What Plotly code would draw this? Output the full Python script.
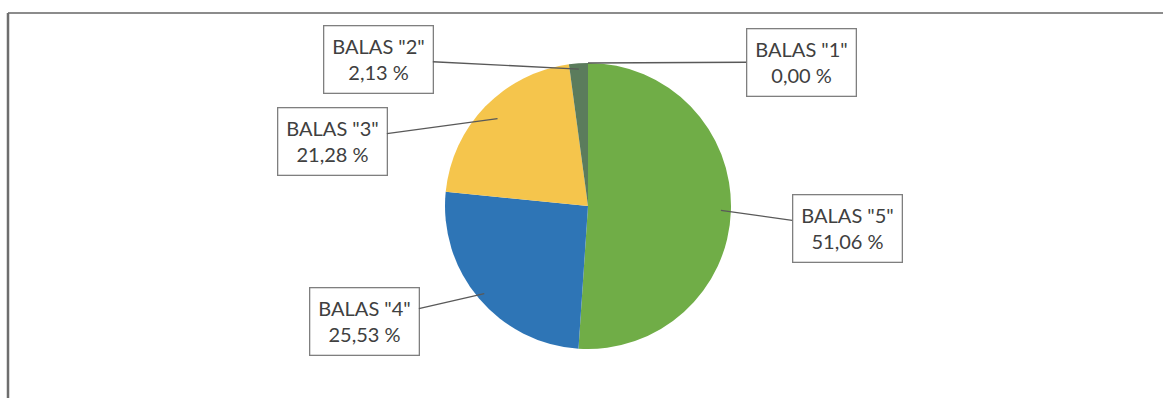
import math
import plotly.graph_objects as go

labels = ['BALAS "1"', 'BALAS "5"', 'BALAS "4"', 'BALAS "3"', 'BALAS "2"']
percents = [0.00, 51.06, 25.53, 21.28, 2.13]
colors = ["#F2C230", "#70AD47", "#2E75B6", "#F5C54C", "#5B7C5C"]
pct_text = ["0,00 %", "51,06 %", "25,53 %", "21,28 %", "2,13 %"]

# label box centres (pixel coords) and how far along the radius the leader line ends
box_pos = [(801, 62), (847, 228), (364, 321), (332, 141), (378, 59)]
tip_frac = [1.0, 0.93, 0.95, 0.88, 0.96]

W, H = 1163, 398
cx, cy, R = 588, 206, 143

fig = go.Figure()
fig.add_trace(go.Pie(
    labels=labels, values=percents, sort=False, direction="clockwise", rotation=0,
    marker=dict(colors=colors, line=dict(width=0)),
    textinfo="none", hoverinfo="label+percent", showlegend=False,
    domain=dict(x=[(cx - R) / W, (cx + R) / W], y=[(H - cy - R) / H, (H - cy + R) / H]),
))

total = sum(percents)
start = 0.0
for lab, p, t, (bx, by), f in zip(labels, percents, pct_text, box_pos, tip_frac):
    mid = (start + p / 2) / total * 2 * math.pi
    start += p
    tx = cx + f * R * math.sin(mid)
    ty = cy - f * R * math.cos(mid)
    fig.add_annotation(
        x=tx, y=ty, xref="x", yref="y", ax=bx, ay=by, axref="x", ayref="y",
        text=f"{lab}<br>{t}", showarrow=True, arrowhead=0, arrowwidth=1.3,
        arrowcolor="#595959", standoff=0, startstandoff=0,
        font=dict(family="Lato, Open Sans, sans-serif", size=20, color="#404040"),
        bgcolor="white", bordercolor="#7F7F7F", borderwidth=1.3, borderpad=8,
        align="center",
    )

fig.add_shape(type="line", xref="paper", yref="paper", x0=8 / W, x1=1, y0=1 - 13 / H, y1=1 - 13 / H,
              line=dict(color="#8C8C8C", width=2))
fig.add_shape(type="line", xref="paper", yref="paper", x0=8 / W, x1=8 / W, y0=0, y1=1 - 13 / H,
              line=dict(color="#6E6E6E", width=2.5))

fig.update_layout(
    width=W, height=H, margin=dict(l=0, r=0, t=0, b=0),
    paper_bgcolor="white", plot_bgcolor="rgba(0,0,0,0)",
    xaxis=dict(range=[0, W], visible=False, domain=[0, 1], fixedrange=True),
    yaxis=dict(range=[H, 0], visible=False, domain=[0, 1], fixedrange=True),
)

fig.write_html("out.html")
